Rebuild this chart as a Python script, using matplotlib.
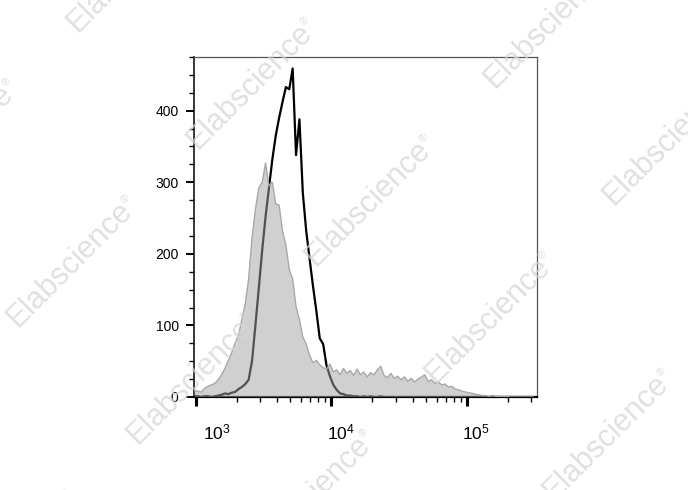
"""
Flow cytometry overlay histogram: isotype control (grey fill) vs stained
sample (black line), log-scaled fluorescence axis, with tiled watermark.
"""
import numpy as np
import matplotlib
matplotlib.use("Agg")
import matplotlib.pyplot as plt
from matplotlib.ticker import FixedLocator, LogLocator, MultipleLocator, NullFormatter
from matplotlib.transforms import ScaledTranslation
from matplotlib.textpath import TextPath
from matplotlib.font_manager import FontProperties

plt.rcParams["font.family"] = ["Liberation Sans", "DejaVu Sans"]
plt.rcParams["mathtext.fontset"] = "custom"
plt.rcParams["mathtext.rm"] = "Liberation Sans"
plt.rcParams["mathtext.it"] = "Liberation Sans"

# ---- data ----------------------------------------------------------------
LOG_START = 2.99          # log10 of first bin centre
LOG_STEP = 0.025          # bin width in decades

isotype_counts = [
    9, 8, 7, 12, 15, 17, 19, 24, 31, 40,
    51, 62, 75, 86, 108, 130, 165, 222, 262, 292,
    300, 327, 295, 300, 270, 268, 232, 212, 178, 165,
    126, 108, 84, 74, 58, 48, 51, 45, 41, 39,
    46, 35, 38, 31, 40, 33, 37, 30, 39, 31,
    35, 28, 34, 31, 38, 43, 30, 27, 33, 26,
    29, 24, 28, 22, 26, 21, 25, 28, 31, 22,
    24, 19, 21, 17, 18, 14, 15, 11, 10, 8,
    7, 6, 5, 4, 3, 2, 2, 1, 2, 1,
    1, 0, 1, 0, 0, 0, 0, 0, 0, 0, 0,
]

stained_counts = [
    1, 1, 0, 1, 1, 0, 1, 2, 3, 5,
    4, 6, 7, 11, 14, 18, 24, 50, 100, 152,
    205, 252, 292, 332, 365, 390, 412, 433, 430, 459,
    338, 388, 285, 232, 193, 155, 120, 82, 74, 44,
    29, 17, 10, 5, 4, 2, 2, 1, 1, 0,
    1, 0, 1, 0, 0, 1, 0, 0, 0, 0,
    0, 0, 0, 0, 0, 0, 0, 0, 0, 0,
    0, 0, 0, 0, 0, 0, 0, 0, 0, 0,
    0, 0, 0, 0, 0, 0, 0, 0, 0, 0,
    0, 0, 0, 0, 0, 0, 0, 0, 0, 0, 0,
]

x_major = [1e3, 1e4, 1e5]
x_labels = [r"$\mathregular{10^{3}}$", r"$\mathregular{10^{4}}$", r"$\mathregular{10^{5}}$"]
y_major = [0, 100, 200, 300, 400]
xlim = (970, 3.3e5)
ylim = (0, 475)

WATERMARK = "Elabscience"

# ---- figure ---------------------------------------------------------------
W, H = 688, 490
fig = plt.figure(figsize=(W / 100, H / 100), dpi=100)
ax = fig.add_axes([194 / W, 1 - 397 / H, (537 - 194) / W, (397 - 57) / H])

xs = 10 ** (LOG_START + LOG_STEP * np.arange(len(isotype_counts)))
iso = np.array(isotype_counts, dtype=float)
st = np.array(stained_counts, dtype=float)

ax.plot(xs, st, color="black", lw=1.6, zorder=2)
ax.fill_between(xs, 0, iso, facecolor=(0.64, 0.64, 0.64), alpha=0.5,
                linewidth=0, zorder=3)
ax.plot(xs, iso, color="#a8a8a8", lw=1.0, zorder=3.5)

ax.set_xscale("log")
ax.set_xlim(*xlim)
ax.set_ylim(*ylim)

ax.xaxis.set_major_locator(FixedLocator(x_major))
ax.set_xticklabels(x_labels)
ax.xaxis.set_minor_locator(LogLocator(base=10, subs=np.arange(2, 10)))
ax.xaxis.set_minor_formatter(NullFormatter())
ax.yaxis.set_major_locator(FixedLocator(y_major))
ax.yaxis.set_minor_locator(MultipleLocator(25))

ax.tick_params(axis="x", which="major", direction="out", length=6.5, width=2.2,
               pad=12, labelsize=12.5)
ax.tick_params(axis="x", which="minor", direction="out", length=3.5, width=1.0)
ax.tick_params(axis="y", which="major", direction="out", length=6, width=1.4,
               pad=5, labelsize=10)
ax.tick_params(axis="y", which="minor", direction="out", length=3.5, width=1.0)

for side in ("top", "right"):
    ax.spines[side].set_color("#555555")
    ax.spines[side].set_linewidth(0.9)
ax.spines["left"].set_linewidth(1.1)
ax.spines["bottom"].set_linewidth(1.6)

# FlowJo-style label placement: decade labels sit slightly right of tick
shifts = [0.21, 0.10, 0.095]
for lab, dx in zip(ax.get_xticklabels(), shifts):
    lab.set_transform(lab.get_transform() + ScaledTranslation(dx, 0, fig.dpi_scale_trans))

# ---- tiled watermark ------------------------------------------------------
wm_size = 22
wm_prop = FontProperties(family="Liberation Sans", size=wm_size)
wm_len_px = TextPath((0, 0), WATERMARK, size=wm_size, prop=wm_prop).get_extents().width * 100 / 72
ang = np.deg2rad(45)
d = np.array([np.cos(ang), -np.sin(ang)])      # along text, image coords
n = np.array([-np.sin(ang), -np.cos(ang)])     # "up" from baseline, image coords
origin = np.array([197.0, 150.0])
u = np.array([119.0, 117.0])
v = np.array([179.0, -178.0])
for i in range(-3, 6):
    for j in range(-3, 4):
        s = origin + i * u + j * v
        if not (-250 < s[0] < W + 50 and -50 < s[1] < H + 250):
            continue
        fig.text(s[0] / W, 1 - s[1] / H, WATERMARK, rotation=45,
                 rotation_mode="anchor", ha="left", va="baseline",
                 fontsize=wm_size, color="#d6d6d6", alpha=0.75, zorder=10)
        r = s + d * (wm_len_px + 3) + n * 12
        fig.text(r[0] / W, 1 - r[1] / H, "\u00ae", rotation=45,
                 rotation_mode="anchor", ha="left", va="baseline",
                 fontsize=8, color="#d6d6d6", alpha=0.75, zorder=10)

fig.savefig("out.png", dpi=100)
plt.close(fig)
